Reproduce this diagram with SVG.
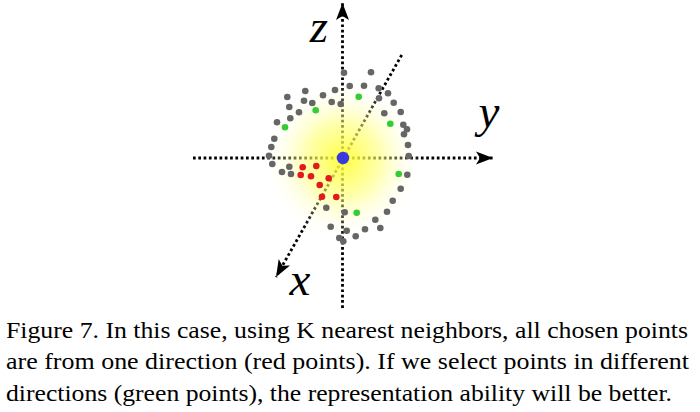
<svg xmlns="http://www.w3.org/2000/svg" width="700" height="412" viewBox="0 0 700 412">
<style>
.ax{fill:none;stroke:#000;stroke-width:2.8;stroke-dasharray:2.7 2.6}
.g{fill:#666}
.gr{fill:#33cc33}
.r{fill:#e31a1c}
.lbl{font-style:italic;font-size:47px;fill:#000;text-anchor:middle}
.cap{font-size:23.5px;fill:#000}
</style>
<defs>
<marker id="ah" markerUnits="userSpaceOnUse" markerWidth="20" markerHeight="16" viewBox="-18 -8 20 16" refX="0" refY="0" orient="auto">
<path d="M0,0 L-17,-6.5 L-13,0 L-17,6.5 Z" fill="#000"/>
</marker>
<radialGradient id="glow" cx="343" cy="160" r="80" gradientUnits="userSpaceOnUse">
<stop offset="0" stop-color="#ffff30" stop-opacity="0.92"/>
<stop offset="0.45" stop-color="#ffff70" stop-opacity="0.6"/>
<stop offset="1" stop-color="#ffffff" stop-opacity="0"/>
</radialGradient>
</defs>
<g id="connectors">
<path class="ax" d="M193,158 L493,158" marker-end="url(#ah)"/>
<path class="ax" d="M342.5,308 L342.5,3" marker-end="url(#ah)"/>
<path class="ax" d="M401.7,55 L276,277" marker-end="url(#ah)"/>
</g>
<g id="glow-area">
<circle cx="343" cy="160" r="80" fill="url(#glow)"/>
</g>
<g id="gray-points">
<circle class="g" cx="344" cy="72.7" r="3.3"/>
<circle class="g" cx="371" cy="72.3" r="3.3"/>
<circle class="g" cx="349.7" cy="86" r="3.3"/>
<circle class="g" cx="364" cy="85.7" r="3.3"/>
<circle class="g" cx="378.7" cy="88.3" r="3.3"/>
<circle class="g" cx="305.3" cy="91" r="3.3"/>
<circle class="g" cx="287.3" cy="97" r="3.3"/>
<circle class="g" cx="323" cy="95.3" r="3.3"/>
<circle class="g" cx="335" cy="90" r="3.3"/>
<circle class="g" cx="388" cy="93.3" r="3.3"/>
<circle class="g" cx="304" cy="100.7" r="3.3"/>
<circle class="g" cx="312.3" cy="103" r="3.3"/>
<circle class="g" cx="331.7" cy="102" r="3.3"/>
<circle class="g" cx="340.7" cy="104" r="3.3"/>
<circle class="g" cx="379" cy="98.3" r="3.3"/>
<circle class="g" cx="393.7" cy="102.7" r="3.3"/>
<circle class="g" cx="289.3" cy="107" r="3.3"/>
<circle class="g" cx="299" cy="112.3" r="3.3"/>
<circle class="g" cx="384.3" cy="113.3" r="3.3"/>
<circle class="g" cx="400.7" cy="112" r="3.3"/>
<circle class="g" cx="290.3" cy="118.3" r="3.3"/>
<circle class="g" cx="277" cy="122.3" r="3.3"/>
<circle class="g" cx="403.3" cy="124.7" r="3.3"/>
<circle class="g" cx="407" cy="129.3" r="3.3"/>
<circle class="g" cx="404" cy="134.3" r="3.3"/>
<circle class="g" cx="274.3" cy="138.7" r="3.3"/>
<circle class="g" cx="271.3" cy="147" r="3.3"/>
<circle class="g" cx="408" cy="145" r="3.3"/>
<circle class="g" cx="269" cy="155.7" r="3.3"/>
<circle class="g" cx="408.7" cy="156" r="3.3"/>
<circle class="g" cx="272.3" cy="164" r="3.3"/>
<circle class="g" cx="289.3" cy="166.7" r="3.3"/>
<circle class="g" cx="282" cy="172" r="3.3"/>
<circle class="g" cx="291" cy="174" r="3.3"/>
<circle class="g" cx="407.3" cy="174.7" r="3.3"/>
<circle class="g" cx="400.7" cy="188.7" r="3.3"/>
<circle class="g" cx="392.7" cy="200.7" r="3.3"/>
<circle class="g" cx="326.3" cy="207.7" r="3.3"/>
<circle class="g" cx="344.7" cy="212.3" r="3.3"/>
<circle class="g" cx="387" cy="211.7" r="3.3"/>
<circle class="g" cx="375.3" cy="219.7" r="3.3"/>
<circle class="g" cx="330.7" cy="226.7" r="3.3"/>
<circle class="g" cx="365" cy="229.3" r="3.3"/>
<circle class="g" cx="380.3" cy="228" r="3.3"/>
<circle class="g" cx="346.7" cy="230.7" r="3.3"/>
<circle class="g" cx="355.7" cy="236.3" r="3.3"/>
<circle class="g" cx="339.3" cy="238" r="3.3"/>
<circle class="g" cx="343.3" cy="241.3" r="3.3"/>
</g>
<g id="green-points">
<circle class="gr" cx="358.7" cy="96.7" r="3.3"/>
<circle class="gr" cx="315.7" cy="110.3" r="3.3"/>
<circle class="gr" cx="285" cy="127.3" r="3.3"/>
<circle class="gr" cx="390.3" cy="123.7" r="3.3"/>
<circle class="gr" cx="398.7" cy="174" r="3.3"/>
<circle class="gr" cx="356.7" cy="212.7" r="3.3"/>
</g>
<g id="red-points">
<circle class="r" cx="302.7" cy="167.3" r="3.3"/>
<circle class="r" cx="316.3" cy="166" r="3.3"/>
<circle class="r" cx="300.7" cy="175" r="3.3"/>
<circle class="r" cx="311" cy="176.3" r="3.3"/>
<circle class="r" cx="328.7" cy="178.3" r="3.3"/>
<circle class="r" cx="319.7" cy="185" r="3.3"/>
<circle class="r" cx="322" cy="196.7" r="3.3"/>
<circle class="r" cx="336.3" cy="197" r="3.3"/>
</g>
<g id="center-point">
<circle cx="343" cy="158" r="6.2" fill="#3b3bdd"/>
</g>
<g id="axis-labels" font-family="Liberation Serif, serif">
<text class="lbl" x="319" y="42">z</text>
<text class="lbl" x="489" y="127">y</text>
<text class="lbl" x="300" y="295">x</text>
</g>
<g id="caption" font-family="Liberation Serif, serif">
<text class="cap" x="6" y="337.5" textLength="682" lengthAdjust="spacingAndGlyphs">Figure 7. In this case, using K nearest neighbors, all chosen points</text>
<text class="cap" x="6" y="369" textLength="683" lengthAdjust="spacingAndGlyphs">are from one direction (red points). If we select points in different</text>
<text class="cap" x="6" y="400.5" textLength="666" lengthAdjust="spacingAndGlyphs">directions (green points), the representation ability will be better.</text>
</g>
</svg>
